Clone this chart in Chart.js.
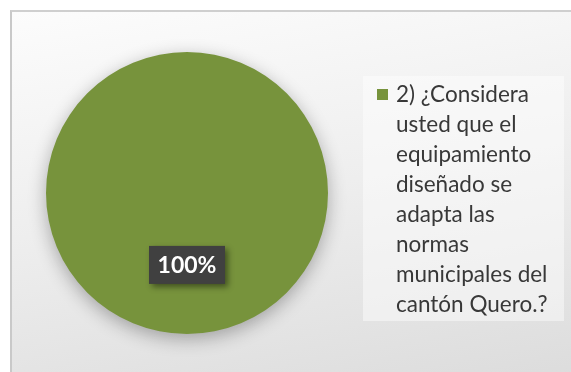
<!DOCTYPE html>
<html>
<head>
<meta charset="utf-8">
<script src="https://cdn.jsdelivr.net/npm/chart.js@4"></script>
<style>
  html, body { margin: 0; padding: 0; background: #fff; overflow: hidden; }
  #frame {
    position: absolute; left: 10px; top: 10px; width: 600px; height: 400px;
    border-left: 2px solid #c9c9c9; border-top: 2px solid #cfcfcf;
    background: linear-gradient(170deg, #fcfcfc 0%, #eeeeee 45%, #d9d9d9 100%);
  }
  #wrap { position: absolute; left: 0; top: 0; width: 571px; height: 372px; }
</style>
</head>
<body>
<div id="frame"></div>
<div id="wrap"><canvas id="pieChart" width="571" height="372"></canvas></div>
<script>
// datos del gráfico
const categories = ['2) ¿Considera usted que el equipamiento diseñado se adapta las normas municipales del cantón Quero.?'];
const values = [100];
const colors = ['#77933C'];

// sombra suave bajo el pastel
const pieShadow = {
    id: 'pieShadow',
    beforeDatasetsDraw(chart) {
        const ctx = chart.ctx;
        ctx.save();
        ctx.shadowColor = 'rgba(0,0,0,0.3)';
        ctx.shadowBlur = 18;
        ctx.shadowOffsetY = 5;
    },
    afterDatasetsDraw(chart) {
        chart.ctx.restore();
    }
};

// etiqueta de porcentaje en caja oscura
const pctLabels = {
    id: 'pctLabels',
    afterDatasetsDraw(chart) {
        const ctx = chart.ctx;
        const meta = chart.getDatasetMeta(0);
        const total = values.reduce((a, b) => a + b, 0);
        meta.data.forEach((arc, i) => {
            const mid = (arc.startAngle + arc.endAngle) / 2;
            const r = arc.outerRadius * 0.51;
            const x = arc.x + Math.cos(mid) * r;
            const y = arc.y + Math.sin(mid) * r;
            const text = Math.round(values[i] / total * 100) + '%';
            ctx.save();
            ctx.font = 'bold 23px Lato, "Open Sans", sans-serif';
            const w = 76, h = 38;
            ctx.shadowColor = 'rgba(0,0,0,0.45)';
            ctx.shadowBlur = 6;
            ctx.shadowOffsetX = 3;
            ctx.shadowOffsetY = 3;
            ctx.fillStyle = '#404040';
            ctx.fillRect(x - w / 2, y - h / 2, w, h);
            ctx.shadowColor = 'transparent';
            ctx.fillStyle = '#ffffff';
            ctx.textAlign = 'center';
            ctx.textBaseline = 'middle';
            ctx.fillText(text, x, y + 1);
            ctx.restore();
        });
    }
};

// leyenda a la derecha con texto en varias líneas
const sideLegend = {
    id: 'sideLegend',
    afterDraw(chart) {
        const ctx = chart.ctx;
        ctx.save();
        ctx.fillStyle = 'rgba(255,255,255,0.45)';
        ctx.fillRect(363, 76, 201, 245);
        ctx.font = '22.5px Lato, "Open Sans", sans-serif';
        ctx.textBaseline = 'alphabetic';
        const maxW = 164;
        let y = 102;
        categories.forEach((label, i) => {
            ctx.fillStyle = colors[i];
            ctx.fillRect(377, 89, 11, 11);
            const words = label.split(' ');
            const lines = [];
            let line = '';
            words.forEach(word => {
                const test = line ? line + ' ' + word : word;
                if (ctx.measureText(test).width > maxW && line) {
                    lines.push(line);
                    line = word;
                } else {
                    line = test;
                }
            });
            lines.push(line);
            ctx.fillStyle = '#383838';
            lines.forEach(l => {
                ctx.fillText(l, 396, y);
                y += 30;
            });
        });
        ctx.restore();
    }
};

new Chart(document.getElementById('pieChart'), {
    type: 'pie',
    data: {
        labels: categories,
        datasets: [{
            data: values,
            backgroundColor: colors,
            borderWidth: 0
        }]
    },
    options: {
        responsive: false,
        animation: false,
        layout: { padding: { left: 46, top: 52, right: 243, bottom: 38 } },
        plugins: {
            legend: { display: false },
            tooltip: { enabled: false }
        }
    },
    plugins: [pieShadow, pctLabels, sideLegend]
});
</script>
</body>
</html>
